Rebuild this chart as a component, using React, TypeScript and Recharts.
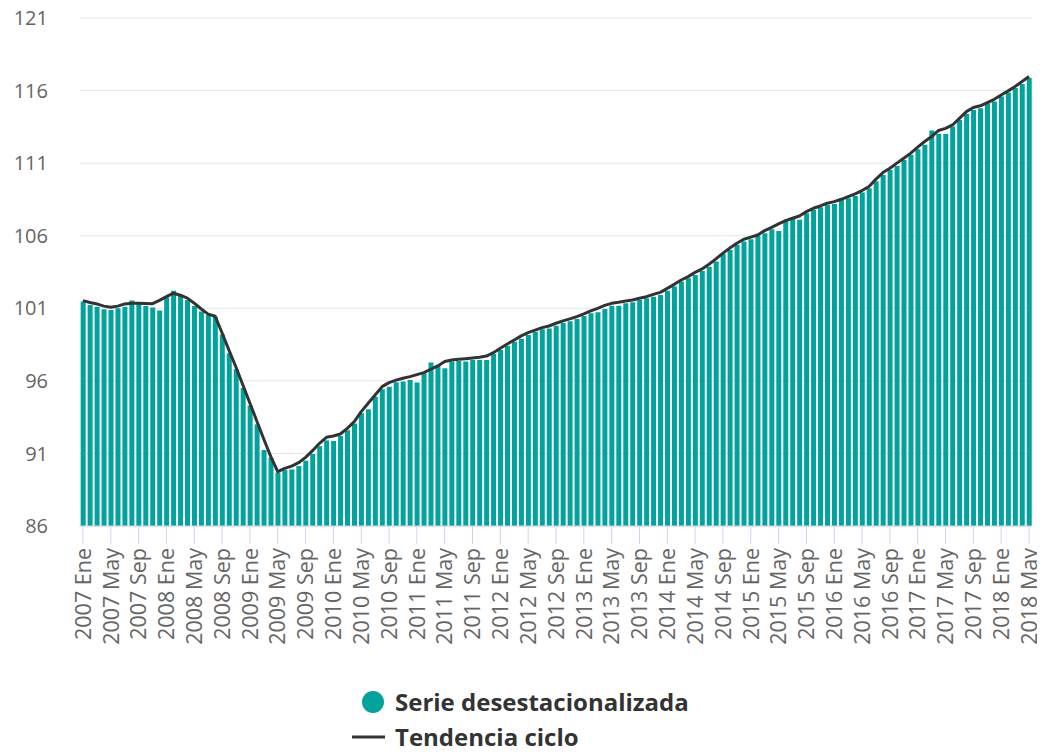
import React from 'react';
import { ComposedChart, Bar, Line, XAxis, YAxis, CartesianGrid } from 'recharts';

const FONT = "'Open Sans', sans-serif";

const years = [2007, 2008, 2009, 2010, 2011, 2012, 2013, 2014, 2015, 2016, 2017, 2018];
const months = ['Ene', 'Feb', 'Mar', 'Abr', 'May', 'Jun', 'Jul', 'Ago', 'Sep', 'Oct', 'Nov', 'Dic'];

const serieDesestacionalizada = [
  101.46, 101.23, 101.11, 100.93, 100.89, 101.0, 101.1, 101.53, 101.3, 101.16, 101.05, 100.84,
  101.76, 102.2, 101.9, 101.57, 101.16, 100.77, 100.54, 100.42, 99.2, 97.9, 96.8, 95.5,
  94.3, 93.0, 91.24, 90.7, 89.68, 89.85, 89.9, 90.13, 90.5, 90.96, 91.5, 91.9,
  91.86, 92.2, 92.6, 93.05, 93.77, 94.04, 94.9, 95.43, 95.6, 95.9, 95.95, 96.06,
  95.88, 96.52, 97.26, 97.0, 96.87, 97.33, 97.37, 97.33, 97.44, 97.44, 97.44, 97.85,
  98.13, 98.4, 98.7, 98.9, 99.16, 99.39, 99.55, 99.6, 99.8, 100.0, 100.1, 100.27,
  100.47, 100.66, 100.73, 100.95, 101.18, 101.18, 101.34, 101.41, 101.57, 101.69, 101.8, 101.92,
  102.2, 102.5, 102.84, 103.07, 103.3, 103.57, 103.87, 104.22, 104.75, 105.02, 105.37, 105.6,
  105.76, 105.99, 106.17, 106.45, 106.33, 107.04, 107.15, 107.1, 107.55, 107.78, 107.96, 108.12,
  108.19, 108.47, 108.58, 108.74, 108.97, 109.27, 109.75, 110.19, 110.53, 110.81, 111.22, 111.57,
  111.96, 112.26, 113.25, 113.0, 113.0, 113.52, 113.98, 114.39, 114.67, 114.79, 115.13, 115.24,
  115.59, 115.86, 116.17, 116.46, 116.86,
];

const tendenciaCiclo = [
  101.53, 101.4, 101.3, 101.15, 101.07, 101.15, 101.3, 101.35, 101.35, 101.33, 101.32, 101.55,
  101.8, 102.04, 101.9, 101.7, 101.35, 100.95, 100.6, 100.45, 99.3, 98.1, 96.94, 95.7,
  94.46, 93.22, 91.98, 90.78, 89.74, 89.97, 90.13, 90.36, 90.73, 91.19, 91.7, 92.11,
  92.2, 92.34, 92.73, 93.19, 93.88, 94.46, 95.03, 95.6, 95.88, 96.05, 96.18, 96.29,
  96.43, 96.57, 96.8, 97.03, 97.33, 97.44, 97.49, 97.53, 97.58, 97.62, 97.71, 97.94,
  98.24, 98.54, 98.82, 99.1, 99.32, 99.5, 99.67, 99.78, 99.97, 100.13, 100.27, 100.43,
  100.61, 100.82, 101.0, 101.2, 101.34, 101.41, 101.5, 101.57, 101.69, 101.8, 101.96, 102.1,
  102.37, 102.65, 102.95, 103.18, 103.48, 103.71, 104.03, 104.4, 104.8, 105.15, 105.48, 105.76,
  105.9, 106.05, 106.35, 106.58, 106.81, 107.04, 107.2, 107.36, 107.66, 107.89, 108.05, 108.24,
  108.35, 108.51, 108.69, 108.88, 109.11, 109.39, 109.9, 110.35, 110.65, 111.0, 111.34, 111.69,
  112.1, 112.49, 112.83, 113.25, 113.4, 113.63, 114.09, 114.55, 114.83, 114.95, 115.17, 115.4,
  115.7, 115.98, 116.28, 116.62, 116.97,
];

const yTicks = [86, 91, 96, 101, 106, 111, 116, 121];

const labels: string[] = [];
for (const y of years) for (const m of months) labels.push(`${y} ${m}`);

const data = serieDesestacionalizada.map((v, i) => ({
  label: labels[i],
  serie: v,
  tendencia: tendenciaCiclo[i],
}));

const BAR_COLOR = '#03a39d';
const LINE_COLOR = '#333333';

const XTick = (props: any) => {
  const { x, y, payload } = props;
  return (
    <text
      x={x}
      y={y}
      transform={`rotate(-90 ${x} ${y})`}
      textAnchor="end"
      dy="0.36em"
      fill="#666666"
      fontSize={21.5}
      fontFamily={FONT}
    >
      {payload.value}
    </text>
  );
};

const YTick = (props: any) => {
  const { x, y, payload } = props;
  return (
    <text x={x} y={y} textAnchor="end" dy="0.36em" fill="#666666" fontSize={20} fontFamily={FONT}>
      {payload.value}
    </text>
  );
};

export default function App() {
  return (
    <div style={{ position: 'relative', width: 1037, height: 752, marginTop: -8 }}>
      <ComposedChart
        width={1037}
        height={668}
        data={data}
        margin={{ top: 18, right: 12.5, left: 0, bottom: 0 }}
        barCategoryGap="17%"
      >
        <CartesianGrid vertical={false} stroke="#e6e6e6" />
        <XAxis
          dataKey="label"
          interval={3}
          height={142}
          tickSize={18}
          tickMargin={4}
          stroke="#ccd6eb"
          tickLine={{ stroke: '#ccd6eb' }}
          axisLine={{ stroke: '#ccd6eb' }}
          tick={<XTick />}
        />
        <YAxis
          domain={[86, 121]}
          ticks={yTicks}
          width={71.5}
          axisLine={false}
          tickLine={false}
          tickSize={6}
          tickMargin={25.5}
          tick={<YTick />}
        />
        <Bar dataKey="serie" fill={BAR_COLOR} isAnimationActive={false} />
        <Line
          dataKey="tendencia"
          type="linear"
          stroke={LINE_COLOR}
          strokeWidth={3}
          strokeLinejoin="round"
          dot={false}
          isAnimationActive={false}
        />
      </ComposedChart>
      <svg
        width={1037}
        height={84}
        style={{ position: 'absolute', left: 0, top: 668, overflow: 'visible' }}
      >
        <circle cx={365} cy={34} r={11} fill={BAR_COLOR} />
        <text x={387} y={34} dy="0.36em" fontSize={24} fontWeight={700} fill="#333333" fontFamily={FONT}>
          Serie desestacionalizada
        </text>
        <line x1={344} x2={377} y1={69} y2={69} stroke={LINE_COLOR} strokeWidth={3} />
        <text x={387} y={69} dy="0.36em" fontSize={24} fontWeight={700} fill="#333333" fontFamily={FONT}>
          Tendencia ciclo
        </text>
      </svg>
    </div>
  );
}
